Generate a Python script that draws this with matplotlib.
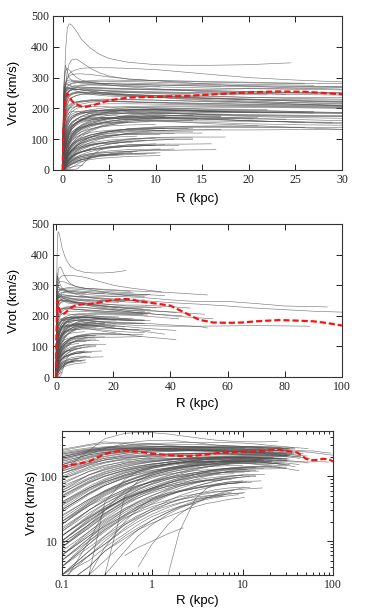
import numpy as np
import matplotlib
matplotlib.use("Agg")
import matplotlib.pyplot as plt
from matplotlib.ticker import FixedLocator, NullFormatter, LogLocator, MultipleLocator

# ---------------- data ----------------
# common radius grid (kpc); value i of a curve is at R_GRID[i], except its LAST
# value, which sits at the curve's own outermost radius (first item of each tuple)
R_GRID = [0.1, 0.2, 0.3, 0.5, 0.7, 1, 1.5, 2, 3, 4, 5, 7, 10, 13, 16, 20, 25, 30,
          40, 50, 60, 70, 80, 90, 100]

# (outermost radius, rotation velocities km/s); None = not measured
V_MASSIVE = [
    (53, [200,245,262,272,278,282,286,288,290,292,292,291,290,289,287,285,282,280,276,268]),
    (100, [170,215,235,250,258,263,266,268,268,267,266,264,262,260,258,255,252,250,243,238,232,225,220,215,212]),
    (95, [190,230,250,262,268,272,275,276,276,275,274,272,270,268,266,264,262,260,252,246,247,240,232,229]),
    (33, [220,260,275,282,285,287,286,285,283,281,280,278,276,274,272,270,270,270]),
    (31, [150,200,225,245,255,260,262,262,260,258,256,254,252,250,250,250,250,252]),
    (32, [180,225,245,258,264,268,270,270,268,266,265,263,262,262,262,264,266,268]),
    (34, [230,265,275,278,276,272,268,265,262,260,258,256,254,252,250,248,245,242]),
    (31, [160,205,230,248,256,260,262,263,264,264,263,262,260,258,256,254,250,246]),
    (47, [140,190,215,235,243,248,250,250,250,248,246,244,242,240,238,236,235,235,230,225]),
    (30.5, [210,250,262,266,266,265,262,260,256,253,250,246,242,238,234,230,226,222]),
    (33, [120,170,200,225,238,245,250,252,252,250,248,245,240,236,232,228,224,220]),
    (27, [190,235,255,268,275,280,283,285,287,288,288,287,285,282,280,278,275]),
    (37, [130,180,205,228,240,248,254,256,258,258,256,252,248,244,240,236,232,230,226]),
    (31, [150,195,220,238,245,250,252,252,250,247,244,240,236,232,228,224,218,214]),
    (22, [100,150,180,210,225,235,242,246,250,252,252,251,250,248,246,244]),
    (35, [220,255,265,268,266,262,256,252,246,242,240,238,236,234,232,230,228,226]),
    (38, [170,215,235,250,258,264,270,274,278,280,282,282,280,278,276,274,272,270,266]),
    (24, [240,275,285,290,292,292,290,288,284,280,276,270,264,258,254,250,246]),
    (52, [110,160,190,215,228,236,242,245,246,246,245,243,240,236,232,228,224,220,212,205]),
    (44, [200,240,255,262,264,264,262,260,256,252,248,242,236,230,225,220,214,208,200]),
    (32, [110,155,178,198,208,215,220,222,224,224,223,221,218,215,212,210,208,206]),
    (33, [130,170,190,205,212,218,222,224,225,225,224,222,220,218,216,214,212,210]),
    (42, [90,135,160,185,198,208,216,220,225,227,228,228,227,225,223,221,219,217,212]),
    (31, [75,120,145,172,186,198,208,214,220,222,222,221,219,217,215,213,210,208]),
    (30.5, [60,105,132,160,176,190,200,206,212,214,215,215,214,212,210,208,206,204]),
    (55, [95,140,165,190,202,212,220,224,228,230,230,229,227,224,221,218,214,210,200,190]),
]

V_INTERMEDIATE = [
    (32, [60,95,118,142,156,168,180,188,196,200,203,206,208,208,207,206,204,202]),
    (43, [40,70,92,118,134,150,165,174,186,193,197,202,205,205,204,203,202,200,190]),
    (30.5, [70,105,125,148,160,170,178,183,189,192,194,195,195,193,190,188,186,185]),
    (27, [45,78,100,126,140,154,166,174,184,189,192,195,195,193,190,188,185]),
    (31, [90,128,148,166,174,182,188,191,194,194,193,191,188,184,180,176,174,175]),
    (22, [30,55,76,102,118,134,150,160,174,182,188,195,200,199,198,196]),
    (30.5, [55,90,110,132,144,156,166,172,178,181,183,184,184,182,180,178,176,174]),
    (21, [22,42,60,84,100,116,134,146,162,172,178,186,190,189,188,186]),
    (42, [80,118,138,158,168,176,182,185,188,188,187,184,180,176,172,168,164,160,152]),
    (33, [38,66,88,114,128,142,156,164,175,181,185,190,194,192,190,188,186,185]),
    (27, [55,92,115,140,154,166,176,182,190,194,196,198,198,196,194,192,190]),
    (31, [18,35,50,72,88,104,122,134,150,160,168,178,188,188,187,186,185,184]),
    (33, [110,148,165,180,186,190,190,188,184,180,177,174,172,168,164,160,156,152]),
    (17.5, [32,60,80,106,122,138,154,164,178,186,190,194,196,194,190]),
    (38, [50,82,102,124,136,146,154,158,163,166,167,168,168,166,164,160,155,150,140]),
    (26, [28,52,72,98,114,132,150,162,176,184,189,194,196,194,192,190,188]),
    (18, [65,105,128,152,164,174,182,187,192,194,195,196,196,193,190]),
    (53, [20,40,58,82,98,114,130,140,154,162,168,176,184,183,182,180,178,176,170,165,160]),
    (89, [36,65,86,112,126,140,154,162,172,178,182,186,186,182,178,174,170,168,166,166,167,168,167,166]),
    (31, [120,160,178,194,200,204,206,207,207,206,205,204,202,200,197,194,190,186]),
    (14, [24,44,60,82,96,110,126,136,150,158,164,172,178,177]),
    (17, [14,30,44,64,78,94,112,124,140,150,158,168,174,176,175]),
    (11, [30,55,72,95,108,122,136,144,156,162,166,171,174]),
    (21, [12,25,38,56,70,86,104,116,132,142,150,162,170,172,171,170]),
    (14, [40,66,82,102,114,124,134,140,148,152,155,159,162,160]),
    (11.5, [18,36,52,74,88,104,120,130,144,152,158,165,170]),
    (26, [48,80,100,122,134,144,154,160,166,169,170,172,172,170,166,160,155]),
    (20.5, [8,18,30,48,62,78,96,108,126,138,146,158,166,168,167,166]),
    (14.5, [20,38,54,76,90,106,122,132,146,154,159,164,166,164]),
    (31, [30,54,72,94,106,118,130,136,144,148,151,155,157,156,154,150,147,145]),
    (29, [10,22,34,54,68,84,102,114,130,140,146,154,160,160,159,158,156,155]),
    (17, [18,38,56,80,96,114,132,144,158,166,170,175,177,176,174]),
    (24, [35,62,82,106,120,134,146,154,162,166,168,170,170,169,168,166,164]),
    (42, [50,85,108,132,144,154,162,166,170,170,168,164,160,155,150,145,138,132,122]),
]

V_LOW = [
    (21, [8,16,24,38,50,62,78,90,106,116,124,134,140,142,143,143]),
    (14, [12,24,34,50,62,75,90,100,113,121,127,133,136,136]),
    (17, [5,11,18,30,40,50,64,75,90,100,108,120,128,130,131]),
    (11, [16,30,42,58,70,82,96,104,114,120,124,127,128]),
    (14, [6,14,22,36,46,58,72,82,96,104,110,118,124,124]),
    (12, [10,20,30,44,55,66,79,88,100,106,111,116,119]),
    (17.5, [4,9,15,25,34,44,56,65,78,86,92,100,106,107,107]),
    (10.5, [20,35,46,62,72,82,93,99,106,110,113,115,116]),
    (14, [6,13,20,32,41,51,62,70,80,86,91,98,104,104]),
    (9, [9,18,27,40,50,60,70,76,84,88,91,94,95]),
    (12, [3,7,12,22,29,38,50,58,70,78,84,92,100]),
    (7.5, [12,23,32,45,53,62,70,75,82,86,88,90]),
    (16, [4,10,16,26,34,42,52,58,66,72,76,81,84,84,85]),
    (11, [3,6,10,18,24,32,42,50,60,66,71,77,82]),
    (10, [7,14,21,32,39,47,55,60,67,71,74,78,80]),
    (9.5, [6,12,19,30,37,45,53,58,65,69,72,77,80]),
    (12.5, [5,11,17,28,35,43,52,58,65,70,73,77,80,80]),
    (30, [14,27,38,54,65,77,90,98,108,114,118,124,128,130,130,130,131,132]),
    (26, [10,21,31,47,58,70,84,94,106,114,120,128,134,137,138,138,138]),
    (30.5, [8,17,26,42,54,66,82,93,108,118,125,133,138,141,141,140,139,138]),
    (13.5, [25,44,58,76,87,98,108,114,122,126,129,132,134,134]),
    (11, [15,30,42,60,72,84,96,104,114,120,125,131,135]),
    (14, [4,9,14,24,32,40,52,60,70,78,84,92,98,99]),
    (10, [12,23,32,46,55,64,74,80,88,93,97,101,104]),
    (8, [10,20,30,46,56,66,78,86,96,102,106,110]),
    (6, [8,16,25,38,47,56,66,72,80,85,88]),
    (15, [9,18,27,42,53,64,78,88,100,108,113,118,120,120]),
]

V_DWARF = [
    (10.5, [2.5,6,9,16,22,29,38,44,53,58,62,66,68]),
    (16.5, [4,8,12,19,25,31,38,43,50,54,57,61,63,65,66]),
    (7.5, [3,6,9,15,20,26,33,38,45,49,52,57]),
    (10, [None,3,5,10,15,21,28,34,42,47,50,54,55]),
    (6, [3,7,11,18,23,29,35,39,44,47,49]),
    (9, [2,4,7,12,16,21,28,33,40,44,47,50,52]),
    (6.5, [5,10,15,23,28,34,40,44,48,50,52]),
    (10.5, [None,None,3,7,12,18,26,32,40,46,49,53,56]),
    (8, [6,12,17,25,31,37,43,48,53,56,58,60]),
    (10.5, [2,4,7,11,15,19,24,28,34,38,40,44,47]),
    (2.2, [None,None,None,6,8,10,13,16]),
    (10, [None,None,None,None,None,None,3,14,45,65,75,82,85]),
    (5, [None,3,40,90,120,140,155,162,168,170,170]),
    (7, [None,None,3,50,85,110,128,138,148,152,154,155]),
    (10, [2,10,30,60,80,100,115,124,134,140,143,146,148]),
    (4, [None,3,8,20,32,45,60,70,82,88]),
    (3, [3,5,8,13,18,24,30,34,38]),
    (12, [None,None,None,None,4,9,18,26,38,46,52,60,66,68]),
]

V_PEAKED = [
    (24.5, [120,250,380,460,475,470,450,425,395,375,362,350,342,340,340,342,348]),
    (26, [150,220,270,320,345,358,360,350,330,315,305,295,290,288,285,283,280]),
    (37, [200,250,280,300,312,320,326,330,332,332,332,330,326,318,310,300,292,286,278]),
    (31, [180,240,270,295,305,310,312,312,310,306,302,296,290,284,278,272,266,262]),
    (17, [250,300,320,330,325,315,300,292,285,282,280,278,276,274,272]),
    (10.5, [260,310,340,320,300,290,285,282,280,278,276,274,272]),
]

# median (red dashed) curve
R_MEDIAN = [0, 0.1, 0.2, 0.3, 0.4, 0.5, 0.7, 1.0, 1.5, 2.0, 2.5, 3, 4, 5, 7, 10, 13,
            17, 20, 23, 26, 30, 35, 40, 45, 50, 55, 60, 65, 70, 78, 85, 90, 95, 100]
V_MEDIAN = [0, 140, 168, 222, 242, 248, 240, 224, 213, 206, 205, 208, 217, 226, 235,
            238, 240, 247, 252, 255, 254, 246, 240, 233, 210, 187, 178, 177, 178, 182,
            186, 184, 182, 176, 168]

# axis ranges / ticks
XLIM_TOP = (-1, 30)
XLIM_MID = (-1, 100)
YLIM_LIN = (0, 500)
XLIM_LOG = (0.1, 100)
YLIM_LOG = (3, 500)
LOG_XTICKS = [0.1, 1, 10, 100]
LOG_XTICKLABELS = ["0.1", "1", "10", "100"]
LOG_YTICKS = [10, 100]
LOG_YTICKLABELS = ["10", "100"]
XLABEL = "R (kpc)"
YLABEL = "Vrot (km/s)"

# ---------------- drawing ----------------
W, H = 382, 608
fig = plt.figure(figsize=(W / 100, H / 100), dpi=100)

def frac(left, top, right, bottom):
    return [left / W, 1 - bottom / H, (right - left) / W, (bottom - top) / H]

ax1 = fig.add_axes(frac(53.3, 16, 342, 170))
ax2 = fig.add_axes(frac(53.3, 224, 342, 377))
ax3 = fig.add_axes(frac(61.7, 431, 333, 575))

GRAY = "#505050"
LW = 0.45
ALPHA = 0.75
all_curves = V_MASSIVE + V_INTERMEDIATE + V_LOW + V_DWARF + V_PEAKED

for r_end, vals in all_curves:
    v = np.array([np.nan if x is None else x for x in vals], dtype=float)
    r = np.array(R_GRID[:len(v) - 1] + [r_end], dtype=float)
    m = ~np.isnan(v)
    r, v = r[m], v[m]
    for ax in (ax1, ax2):
        ax.plot(np.r_[0.0, r], np.r_[0.0, v], color=GRAY, lw=LW, alpha=ALPHA,
                solid_capstyle="butt", zorder=2)
    ax3.plot(r, v, color=GRAY, lw=LW, alpha=ALPHA, zorder=2)

for ax in (ax1, ax2):
    ax.plot(R_MEDIAN, V_MEDIAN, color="#ff1010", lw=1.6, dashes=(2.8, 1.3), zorder=5)
ax3.plot(R_MEDIAN[1:], V_MEDIAN[1:], color="#ff1010", lw=1.6, dashes=(2.8, 1.3), zorder=5)

serif = ["Liberation Serif", "DejaVu Serif"]
sans = ["Liberation Sans", "DejaVu Sans"]

ax1.set_xlim(*XLIM_TOP)
ax1.xaxis.set_major_locator(MultipleLocator(5))
ax2.set_xlim(*XLIM_MID)
ax2.xaxis.set_major_locator(MultipleLocator(20))
for ax in (ax1, ax2):
    ax.set_ylim(*YLIM_LIN)
    ax.yaxis.set_major_locator(MultipleLocator(100))

ax3.set_xscale("log")
ax3.set_yscale("log")
ax3.set_xlim(*XLIM_LOG)
ax3.set_ylim(*YLIM_LOG)
ax3.xaxis.set_major_locator(FixedLocator(LOG_XTICKS))
ax3.set_xticklabels(LOG_XTICKLABELS)
ax3.yaxis.set_major_locator(FixedLocator(LOG_YTICKS))
ax3.set_yticklabels(LOG_YTICKLABELS)
ax3.xaxis.set_minor_locator(LogLocator(base=10, subs=np.arange(2, 10)))
ax3.yaxis.set_minor_locator(LogLocator(base=10, subs=np.arange(2, 10)))
ax3.xaxis.set_minor_formatter(NullFormatter())
ax3.yaxis.set_minor_formatter(NullFormatter())

label_pos = {ax1: (-0.149, -0.115), ax2: (-0.135, -0.115), ax3: (-0.139, -0.087)}
for ax in (ax1, ax2, ax3):
    ax.tick_params(which="major", direction="in", top=True, right=True,
                   length=4, width=0.7, pad=3, labelsize=8.5, colors="#222222")
    ax.tick_params(which="minor", direction="in", top=True, right=True,
                   length=2, width=0.6)
    for lab in ax.get_xticklabels() + ax.get_yticklabels():
        lab.set_fontfamily(serif)
    for s in ax.spines.values():
        s.set_linewidth(0.8)
        s.set_color("#333333")
    ax.set_xlabel(XLABEL, fontsize=9.5, family=sans)
    ax.set_ylabel(YLABEL, fontsize=9.5, family=sans)
    xl, yl = label_pos[ax]
    ax.xaxis.set_label_coords(0.5, xl)
    ax.yaxis.set_label_coords(yl, 0.5)

fig.savefig("out.png", dpi=100)
